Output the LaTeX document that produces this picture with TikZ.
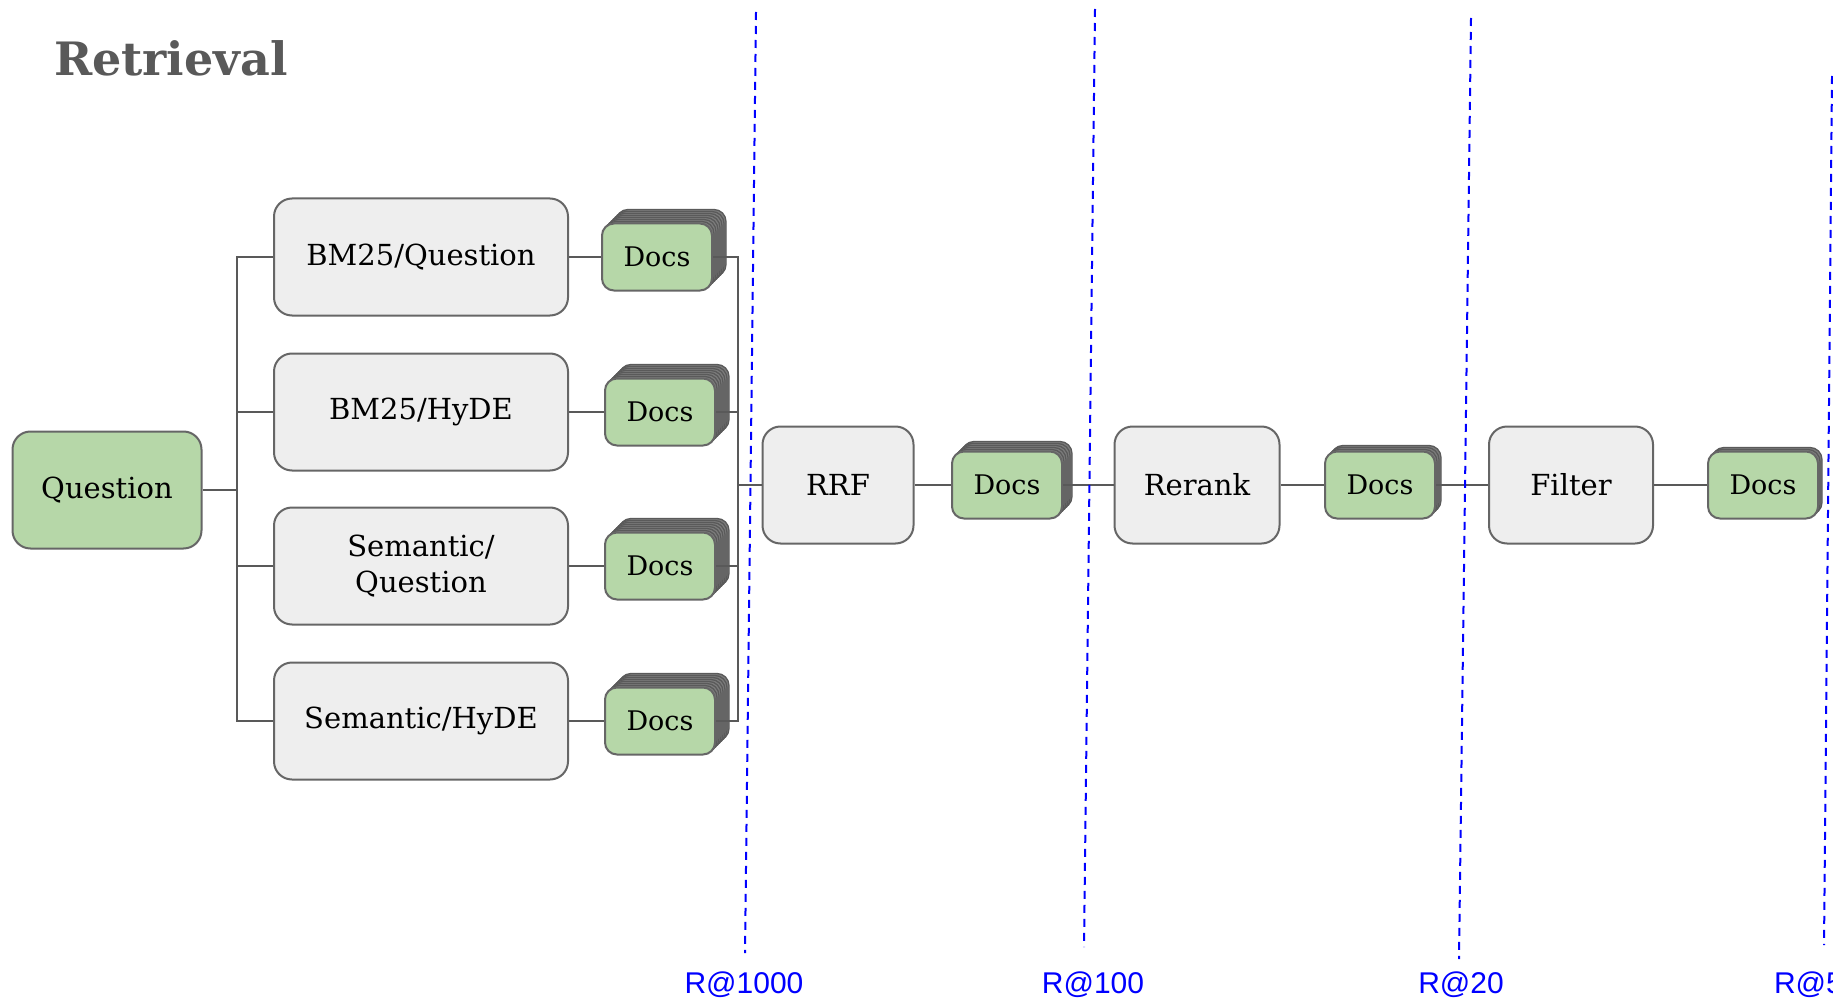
\documentclass[tikz,border=0pt]{standalone}
\usepackage{fontspec}
\setmainfont{DejaVu Serif}
\newfontfamily\labelfont{Liberation Sans}
\definecolor{boxgreen}{HTML}{B6D7A8}
\definecolor{boxgray}{HTML}{EEEEEE}
\definecolor{edge}{HTML}{666666}
\definecolor{wire}{HTML}{595959}
\definecolor{titlegray}{HTML}{595959}
\definecolor{stack}{HTML}{7C7C7C}
\definecolor{stackline}{HTML}{5A5A5A}

\begin{document}
\begin{tikzpicture}[x=1pt, y=-1pt, line width=2pt,
  main/.style = {draw=edge, fill=boxgray, rounded corners=18pt, minimum height=117pt, align=center, font=\fontsize{29}{36}\selectfont},
  start/.style = {main, fill=boxgreen},
  docs/.style = {draw=edge, fill=boxgreen, rounded corners=12pt, minimum width=110pt, minimum height=67pt, font=\fontsize{27}{30}\selectfont},
  layer/.style = {docs, fill=stack, draw=stackline, line width=1.3pt},
  link/.style = {draw=wire},
  recall/.style = {blue, dash pattern=on 8pt off 6pt, line width=2pt},
  rlabel/.style = {text=blue, inner sep=0pt, font=\labelfont\fontsize{30}{34}\selectfont}]
\useasboundingbox (0,0) rectangle (1833,1000);
\node[anchor=base west, inner sep=0pt, text=titlegray, font=\bfseries\fontsize{46}{52}\selectfont] (title) at (53,76) {Retrieval};
\node[start, minimum width=189pt] (q) at (107,490) {Question};
\node[main, minimum width=294pt] (m1) at (421,257) {BM25/Question};
\node[main, minimum width=294pt] (m2) at (421,412) {BM25/HyDE};
\node[main, minimum width=294pt] (m3) at (421,566) {Semantic/\\Question};
\node[main, minimum width=294pt] (m4) at (421,721) {Semantic/HyDE};
\node[main, minimum width=151pt] (rrf) at (838,485) {RRF};
\node[main, minimum width=165pt] (rerank) at (1197,485) {Rerank};
\node[main, minimum width=164pt] (filter) at (1571,485) {Filter};
\foreach \n/\x/\y/\k in {d1/657/257/7, d2/660/412/7, d3/660/566/7, d4/660/721/7, d5/1007/485/5, d6/1380/485/3, d7/1763/485/2} {
  \foreach \i in {\k,...,1}
    \node[layer] at ({\x+2*\i},{\y-2*\i}) {};
  \node[docs] (\n) at (\x,\y) {Docs};
}
\coordinate (split) at (237,490);
\coordinate (join) at (738,485);
\draw[link] (q) -- (split);
\draw[link] (m1.west) -| (split);
\draw[link] (m2.west) -| (split);
\draw[link] (m3.west) -| (split);
\draw[link] (m4.west) -| (split);
\draw[link] (m1) -- (d1);
\draw[link] (m2) -- (d2);
\draw[link] (m3) -- (d3);
\draw[link] (m4) -- (d4);
\draw[link] (d1.east) -| (join);
\draw[link] (d2.east) -| (join);
\draw[link] (d3.east) -| (join);
\draw[link] (d4.east) -| (join);
\draw[link] (join) -- (rrf);
\draw[link] (rrf) -- (d5);
\draw[link] (d5) -- (rerank);
\draw[link] (rerank) -- (d6);
\draw[link] (d6) -- (filter);
\draw[link] (filter) -- (d7);
\node[rlabel, anchor=base] (r1) at (744,993) {R@1000};
\node[rlabel, anchor=base] (r2) at (1093,993) {R@100};
\node[rlabel, anchor=base] (r3) at (1461,993) {R@20};
\node[rlabel, anchor=base west] (r4) at (1773,993) {R@5};
\coordinate (t1) at (756,12);
\coordinate (t2) at (1095,9);
\coordinate (t3) at (1471,18);
\coordinate (t4) at (1832,76);
\draw[recall] (t1) -- (745,953);
\draw[recall] (t2) -- (1084,947);
\draw[recall] (t3) -- (1459,959);
\draw[recall] (t4) -- (1824,945);
\end{tikzpicture}
\end{document}
